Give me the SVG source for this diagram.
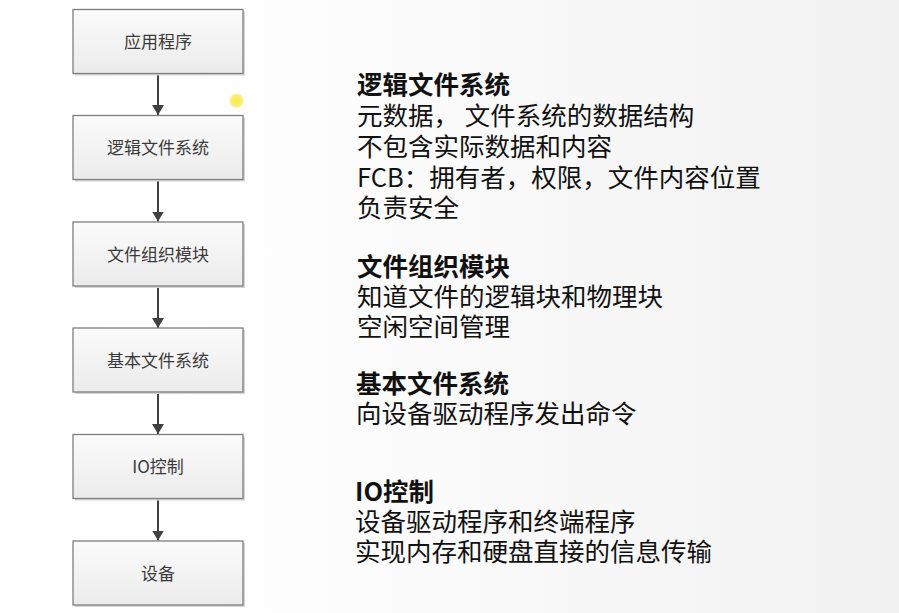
<svg xmlns="http://www.w3.org/2000/svg" width="899" height="613" viewBox="0 0 899 613">
  <defs>
    <linearGradient id="bg" x1="0" y1="0" x2="1" y2="0">
      <stop offset="0" stop-color="#ffffff"/>
      <stop offset="0.35" stop-color="#fdfdfd"/>
      <stop offset="1" stop-color="#f1f1f1"/>
    </linearGradient>
    <linearGradient id="boxfill" x1="0" y1="0" x2="0" y2="1">
      <stop offset="0" stop-color="#fbfbfb"/>
      <stop offset="1" stop-color="#ebebeb"/>
    </linearGradient>
    <radialGradient id="dot">
      <stop offset="0" stop-color="#f7ec55"/>
      <stop offset="0.7" stop-color="#f8ef6a"/>
      <stop offset="1" stop-color="#fbf5b0" stop-opacity="0.6"/>
    </radialGradient>
    <marker id="arr" viewBox="0 0 10 12" refX="10" refY="6" markerWidth="10" markerHeight="12" markerUnits="userSpaceOnUse" orient="auto">
      <path d="M0,0 L10,6 L0,12 z" fill="#404040"/>
    </marker>
  </defs>
  <style>
    .box { fill: url(#boxfill); stroke: #7f7f7f; stroke-width: 1.3; }
    .shadow { fill: #d6d6d6; }
    .lbl { font-family: "Noto Sans CJK SC", "Noto Sans", sans-serif; font-size: 17px; fill: #3a3a3a; text-anchor: middle; }
    .conn { stroke: #404040; stroke-width: 2; fill: none; }
    .h { font-family: "Noto Sans CJK SC", "Noto Sans", sans-serif; font-size: 25.5px; font-weight: bold; fill: #111111; }
    .t { font-family: "Noto Sans CJK SC", "Noto Sans", sans-serif; font-size: 25.5px; fill: #111111; }
  </style>
  <rect x="0" y="0" width="899" height="613" fill="url(#bg)"/>

  <g id="connectors">
    <line class="conn" x1="158" y1="74" x2="158" y2="115" marker-end="url(#arr)"/>
    <line class="conn" x1="158" y1="180" x2="158" y2="221.5" marker-end="url(#arr)"/>
    <line class="conn" x1="158" y1="287" x2="158" y2="328" marker-end="url(#arr)"/>
    <line class="conn" x1="158" y1="393" x2="158" y2="434" marker-end="url(#arr)"/>
    <line class="conn" x1="158" y1="499" x2="158" y2="540.5" marker-end="url(#arr)"/>
  </g>

  <g id="node-app">
    <rect class="shadow" x="75" y="11.5" width="170" height="64"/>
    <rect class="box" x="73" y="9.5" width="170" height="64"/>
    <text class="lbl" x="158" y="48">应用程序</text>
  </g>
  <g id="node-logical">
    <rect class="shadow" x="75" y="117.5" width="170" height="64"/>
    <rect class="box" x="73" y="115.5" width="170" height="64"/>
    <text class="lbl" x="158" y="154">逻辑文件系统</text>
  </g>
  <g id="node-org">
    <rect class="shadow" x="75" y="224" width="170" height="64"/>
    <rect class="box" x="73" y="222" width="170" height="64"/>
    <text class="lbl" x="158" y="260.5">文件组织模块</text>
  </g>
  <g id="node-basic">
    <rect class="shadow" x="75" y="330" width="170" height="64"/>
    <rect class="box" x="73" y="328" width="170" height="64"/>
    <text class="lbl" x="158" y="366.5">基本文件系统</text>
  </g>
  <g id="node-io">
    <rect class="shadow" x="75" y="436.5" width="170" height="64"/>
    <rect class="box" x="73" y="434.5" width="170" height="64"/>
    <text class="lbl" x="158" y="473">IO控制</text>
  </g>
  <g id="node-device">
    <rect class="shadow" x="75" y="543" width="170" height="64"/>
    <rect class="box" x="73" y="541" width="170" height="64"/>
    <text class="lbl" x="158" y="579.5">设备</text>
  </g>

  <circle cx="236.5" cy="100.7" r="7.5" fill="url(#dot)"/>

  <g id="desc">
    <text class="h" x="357" y="94">逻辑文件系统</text>
    <text class="t" x="357" y="125">元数据， 文件系统的数据结构</text>
    <text class="t" x="357" y="156">不包含实际数据和内容</text>
    <text class="t" x="357" y="186.5">FCB：拥有者，权限，文件内容位置</text>
    <text class="t" x="357" y="217">负责安全</text>

    <text class="h" x="357" y="276">文件组织模块</text>
    <text class="t" x="357" y="306">知道文件的逻辑块和物理块</text>
    <text class="t" x="357" y="336">空闲空间管理</text>

    <text class="h" x="356" y="393">基本文件系统</text>
    <text class="t" x="356" y="423">向设备驱动程序发出命令</text>

    <text class="h" x="355" y="501">IO控制</text>
    <text class="t" x="355" y="531">设备驱动程序和终端程序</text>
    <text class="t" x="355" y="561">实现内存和硬盘直接的信息传输</text>
  </g>
</svg>
